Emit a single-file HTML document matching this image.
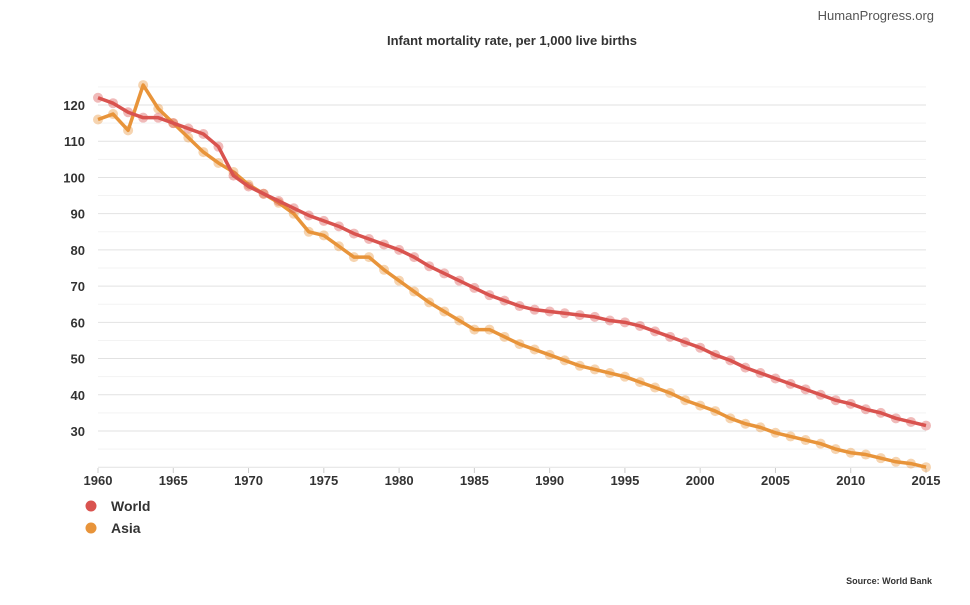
<!DOCTYPE html>
<html><head><meta charset="utf-8"><style>
body{margin:0;background:#fff;font-family:"Liberation Sans",sans-serif}
svg text{font-family:"Liberation Sans",sans-serif}
</style></head><body>
<svg id="c" width="970" height="600">
<text x="934" y="20" text-anchor="end" font-size="13" fill="#555">HumanProgress.org</text>
<text x="512" y="45" text-anchor="middle" font-size="13" font-weight="bold" fill="#333">Infant mortality rate, per 1,000 live births</text>
<g id="grid"></g><g id="yt"></g><g id="xt"></g><g id="lines"></g>
<g>
<g><circle cx="91" cy="506" r="5.5" fill="#d9534f"/><text x="111" y="511" font-size="14" font-weight="bold" fill="#333">World</text></g>
<g><circle cx="91" cy="528" r="5.5" fill="#e8943a"/><text x="111" y="533" font-size="14" font-weight="bold" fill="#333">Asia</text></g>
</g>
<text x="932" y="584" text-anchor="end" font-size="9" font-weight="bold" fill="#333">Source: World Bank</text>
</svg>
<script>
const years=[];for(let y=1960;y<=2015;y++)years.push(y);
const world=[122,120.5,118,116.5,116.5,115,113.5,112,108.5,100.5,97.5,95.5,93.5,91.5,89.5,88,86.5,84.5,83,81.5,80,78,75.5,73.5,71.5,69.5,67.5,66,64.5,63.5,63,62.5,62,61.5,60.5,60,59,57.5,56,54.5,53,51,49.5,47.5,46,44.5,43,41.5,40,38.5,37.5,36,35,33.5,32.5,31.5];
const asia=[116,117.5,113,125.5,119,115,111,107,104,101.5,98,95.5,93,90,85,84,81,78,78,74.5,71.5,68.5,65.5,63,60.5,58,58,56,54,52.5,51,49.5,48,47,46,45,43.5,42,40.5,38.5,37,35.5,33.5,32,31,29.5,28.5,27.5,26.5,25,24,23.5,22.5,21.5,21,20];
const yTicks=[30,40,50,60,70,80,90,100,110,120];
const xTicks=[1960,1965,1970,1975,1980,1985,1990,1995,2000,2005,2010,2015];
const X=y=>98+(y-1960)*(828/55);
const Y=v=>105+(120-v)*(326/90);
const NS='http://www.w3.org/2000/svg';
function mk(t,a,p){const e=document.createElementNS(NS,t);for(const k in a)e.setAttribute(k,a[k]);p.appendChild(e);return e;}
const grid=document.getElementById('grid'),yt=document.getElementById('yt'),xt=document.getElementById('xt'),lines=document.getElementById('lines');
for(let v=20;v<=125;v+=5){const l=mk('line',{x1:98,x2:926,y1:Y(v),y2:Y(v),stroke:v%10?'#f3f3f3':'#e2e2e2','stroke-width':1},grid);

}
yTicks.forEach(v=>{const t=mk('text',{x:85,y:Y(v)+5,'text-anchor':'end','font-size':13,'font-weight':'bold',fill:'#333'},yt);t.textContent=v;

});
xTicks.forEach(v=>{const t=mk('text',{x:X(v),y:485,'text-anchor':'middle','font-size':13,'font-weight':'bold',fill:'#333'},xt);t.textContent=v;


mk('line',{x1:X(v),x2:X(v),y1:468,y2:473,stroke:'#ccc'},xt);});
function series(d,col,name){
const g=mk('g',{},lines);


d.forEach((v,i)=>{const c=mk('circle',{cx:X(years[i]),cy:Y(v),r:5,fill:col,opacity:0.4},g);

});
const p=mk('polyline',{points:d.map((v,i)=>X(years[i])+','+Y(v)).join(' '),fill:'none',stroke:col,'stroke-width':3.5,'stroke-linejoin':'round'},g);

}
series(asia,'#e8943a','asia');
series(world,'#d9534f','world');
</script>
</body></html>
